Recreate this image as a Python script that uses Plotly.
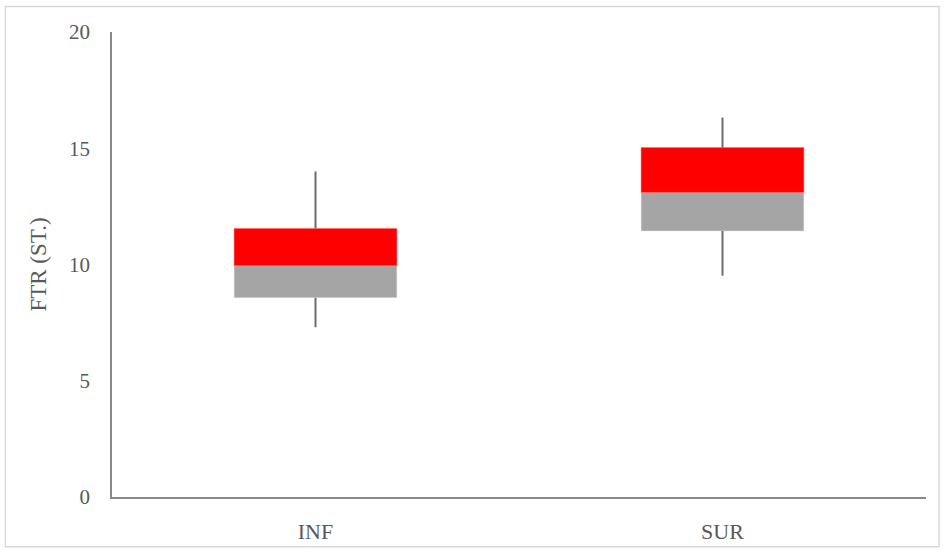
import plotly.graph_objects as go

categories = ["INF", "SUR"]
minimum = [7.30, 9.52]
q1 = [8.57, 11.44]
median = [9.95, 13.10]
q3 = [11.55, 15.03]
maximum = [14.0, 16.32]
y_ticks = [0, 5, 10, 15, 20]

FONT = "Liberation Serif, Times New Roman, serif"
TXT = "#595959"
AXIS = "#898989"

fig = go.Figure()

fig.add_trace(go.Bar(
    x=categories, y=[m - a for m, a in zip(median, q1)], base=q1,
    marker=dict(color="#A5A5A5", line=dict(color="#E6E6E6", width=0.5)),
    width=0.4, showlegend=False, hoverinfo="skip"))
fig.add_trace(go.Bar(
    x=categories, y=[b - m for b, m in zip(q3, median)], base=median,
    marker=dict(color="#FF0000", line=dict(color="#FF6666", width=0.5)),
    width=0.4, showlegend=False, hoverinfo="skip"))

wx, wy = [], []
for c, lo, a, b, hi in zip(categories, minimum, q1, q3, maximum):
    wx += [c, c, None, c, c, None]
    wy += [b, hi, None, lo, a, None]
fig.add_trace(go.Scatter(x=wx, y=wy, mode="lines",
                         line=dict(color="#6B6B6B", width=2),
                         showlegend=False, hoverinfo="skip"))

fig.update_layout(
    width=944, height=553,
    margin=dict(l=112, r=18, t=32, b=56),
    paper_bgcolor="white", plot_bgcolor="white",
    barmode="overlay",
    font=dict(family=FONT, color=TXT, size=20),
    shapes=[dict(type="rect", xref="paper", yref="paper",
                 x0=-0.131, x1=1.016, y0=-0.107, y1=1.055,
                 line=dict(color="#D9D9D9", width=1.5), fillcolor="rgba(0,0,0,0)",
                 layer="below")],
)
fig.update_xaxes(
    automargin=False,
    showline=True, linecolor=AXIS, linewidth=1.5,
    showgrid=False, ticks="", tickfont=dict(size=22, color=TXT),
    ticklabelstandoff=14, range=[-0.5, 1.5])
fig.update_yaxes(
    automargin=False,
    range=[0, 20], tickvals=y_ticks, showline=True, linecolor=AXIS, linewidth=1.5,
    showgrid=False, zeroline=False, ticks="", tickfont=dict(size=21, color=TXT),
    ticklabelstandoff=16,
    title=dict(text="FTR (ST.)", font=dict(size=23, color=TXT), standoff=16))

fig.write_html("out.html",
               config={"displayModeBar": False},
               post_script="document.body.style.margin='0';document.body.style.overflow='hidden';")
